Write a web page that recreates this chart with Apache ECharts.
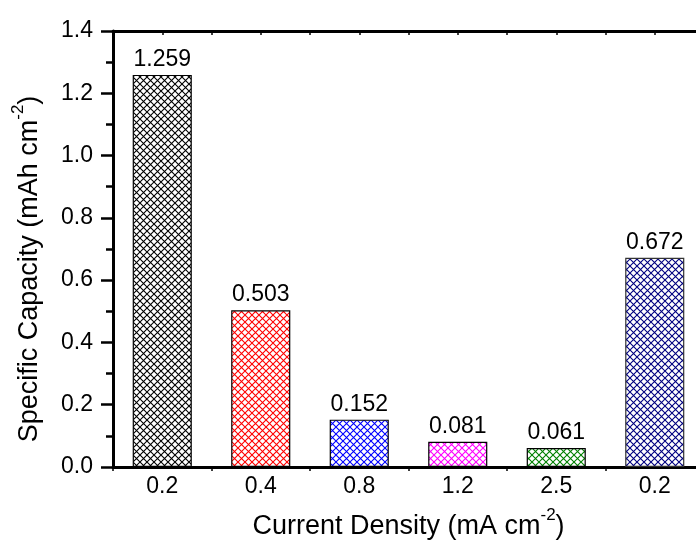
<!DOCTYPE html>
<html>
<head>
<meta charset="utf-8">
<script src="https://cdn.jsdelivr.net/npm/echarts@6/dist/echarts.min.js"></script>
<style>
  html, body { margin: 0; padding: 0; background: #fff; }
  #chart { width: 696px; height: 541px; }
</style>
</head>
<body>
<div id="chart"></div>
<script>
// Rate-capability data: specific capacity at each current density step
const densities = ['0.2', '0.4', '0.8', '1.2', '2.5', '0.2'];
const capacities = [1.259, 0.503, 0.152, 0.081, 0.061, 0.672];
const hatchColors = ['#000000', '#ff0000', '#0000ff', '#ff00ff', '#008000', '#000080'];
const yTicks = [0, 0.2, 0.4, 0.6, 0.8, 1.0, 1.2, 1.4];

const FONT = '"Liberation Sans", Arial, sans-serif';

// Cross-hatch tile used as the bar fill
function hatch(color) {
  const size = 7;
  const c = document.createElement('canvas');
  c.width = size; c.height = size;
  const ctx = c.getContext('2d');
  ctx.fillStyle = '#ffffff';
  ctx.fillRect(0, 0, size, size);
  ctx.strokeStyle = color;
  ctx.lineWidth = 1.1;
  ctx.beginPath();
  ctx.moveTo(0, 0); ctx.lineTo(size, size);
  ctx.moveTo(0, size); ctx.lineTo(size, 0);
  ctx.stroke();
  return { image: c, repeat: 'repeat' };
}

const chart = echarts.init(document.getElementById('chart'), null, { renderer: 'canvas' });

const barData = capacities.map((v, i) => ({
  value: v,
  itemStyle: {
    color: hatch(hatchColors[i]),
    borderColor: i === 5 ? '#333333' : '#000000',
    borderWidth: 1.2
  }
}));

// Axis-title text pieces: base text sits low in a tall line box, the exponent rides at its top
const titleRich = {
  n: { fontSize: 27, fontFamily: FONT, color: '#000', lineHeight: 30, padding: [10, 0, 0, 0] },
  sup: { fontSize: 17, fontFamily: FONT, color: '#000', lineHeight: 17, verticalAlign: 'top' }
};

chart.setOption({
  animation: false,
  backgroundColor: '#ffffff',
  grid: { left: 113, top: 31, width: 591, height: 436, containLabel: false, outerBoundsMode: 'none' },
  xAxis: [
    {
      type: 'category',
      data: densities,
      position: 'bottom',
      axisLine: { show: true, lineStyle: { color: '#000', width: 3 } },
      axisTick: { show: true, inside: false, length: 4, lineStyle: { color: '#000', width: 1.5 } },
      axisLabel: { color: '#000', fontSize: 23, fontFamily: FONT, margin: 8 },
      name: '{n|Current Density (mA cm}{sup|-2}{n|)}',
      nameLocation: 'middle',
      nameGap: 38,
      nameTextStyle: { color: '#000', fontSize: 27, fontFamily: FONT, rich: titleRich },
      splitLine: { show: false }
    },
    {
      type: 'value',
      position: 'top',
      min: 0,
      max: 12,
      interval: 1,
      axisLine: { show: true, onZero: false, lineStyle: { color: '#000', width: 3 } },
      axisTick: { show: true, inside: true, length: 4, lineStyle: { color: '#000', width: 1.5 } },
      axisLabel: { show: false },
      splitLine: { show: false }
    }
  ],
  yAxis: {
    type: 'value',
    min: yTicks[0],
    max: yTicks[yTicks.length - 1],
    interval: 0.2,
    axisLine: { show: true, lineStyle: { color: '#000', width: 3 } },
    axisTick: { show: true, inside: false, length: 12, lineStyle: { color: '#000', width: 2.5 } },
    minorTick: { show: true, splitNumber: 2, length: 7, lineStyle: { color: '#000', width: 2.5 } },
    axisLabel: {
      color: '#000', fontSize: 23, fontFamily: FONT, margin: 20,
      formatter: v => v.toFixed(1)
    },
    splitLine: { show: false },
    name: '{n|Specific Capacity (mAh cm}{sup|-2}{n|)}',
    nameLocation: 'middle',
    nameGap: 73,
    nameRotate: 90,
    nameTextStyle: {
      color: '#000', fontSize: 27, fontFamily: FONT,
      padding: [0, 40, 0, 0],
      rich: titleRich
    }
  },
  series: [{
    type: 'bar',
    xAxisIndex: 0,
    barWidth: '60%',
    data: barData,
    label: {
      show: true,
      position: 'top',
      distance: 4,
      color: '#000',
      fontSize: 23,
      fontFamily: FONT,
      formatter: p => p.value.toFixed(3)
    }
  }]
});
</script>
</body>
</html>
